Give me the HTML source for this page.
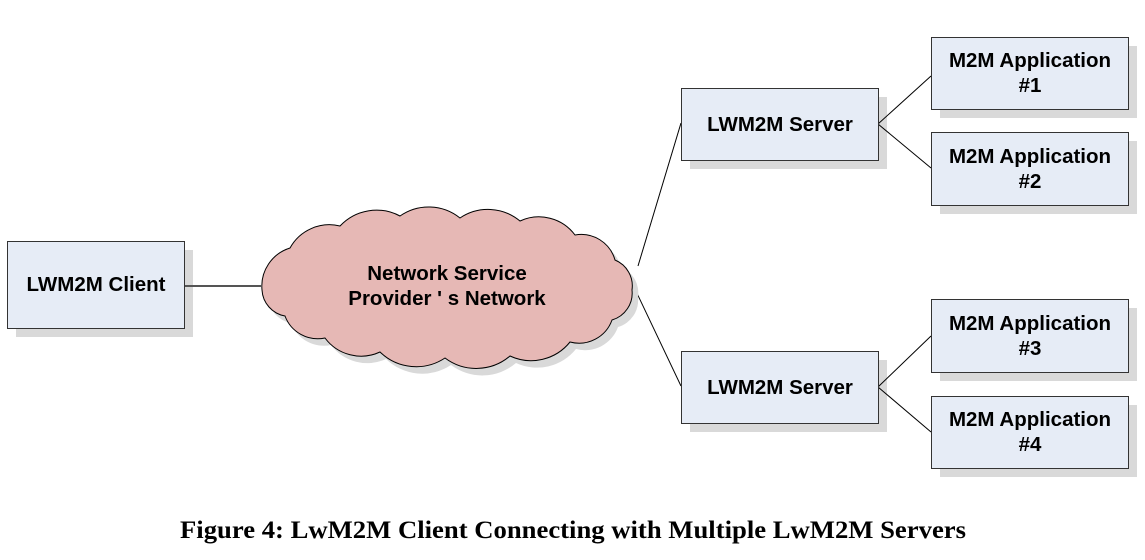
<!DOCTYPE html>
<html><head><meta charset="utf-8"><style>
body{margin:0;background:#fff;width:1145px;height:555px;overflow:hidden}
</style></head><body>
<svg width="1145" height="555" xmlns="http://www.w3.org/2000/svg" font-family="Liberation Sans, Arial, sans-serif">
<g fill="#d9d9d9">
<rect x="16" y="250" width="177" height="87"/>
<rect x="690" y="97" width="197" height="72"/>
<rect x="940" y="46" width="197" height="72"/>
<rect x="940" y="141" width="197" height="73"/>
<rect x="690" y="360" width="197" height="72"/>
<rect x="940" y="308" width="197" height="73"/>
<rect x="940" y="405" width="197" height="72"/>
</g>
<g stroke="#000" stroke-width="1" fill="none">
<line x1="184" y1="286" x2="261" y2="286" stroke="#555" stroke-width="2"/>
<line x1="638" y1="266" x2="681" y2="123"/>
<line x1="634" y1="287" x2="681" y2="386"/>
<line x1="878" y1="124" x2="931" y2="76"/>
<line x1="878" y1="124" x2="931" y2="168"/>
<line x1="878" y1="387" x2="931" y2="336"/>
<line x1="878" y1="387" x2="931" y2="432"/>
</g>
<path transform="translate(6,7)" fill="#d9d9d9" d="M262,290 A40,40 0 0 1 290,248 A45,45 0 0 1 340,226 A50,50 0 0 1 400,216 A50,50 0 0 1 460,218 A50,50 0 0 1 520,221 A45,45 0 0 1 575,235 A35,35 0 0 1 615,260 A28,28 0 0 1 632,290 A28,28 0 0 1 612,320 A35,35 0 0 1 570,342 A50,50 0 0 1 510,356 A52,52 0 0 1 445,358 A52,52 0 0 1 380,352 A45,45 0 0 1 325,338 A35,35 0 0 1 285,316 A28,28 0 0 1 262,290 Z"/>
<path fill="#e6b8b5" stroke="#000" stroke-width="1" d="M262,290 A40,40 0 0 1 290,248 A45,45 0 0 1 340,226 A50,50 0 0 1 400,216 A50,50 0 0 1 460,218 A50,50 0 0 1 520,221 A45,45 0 0 1 575,235 A35,35 0 0 1 615,260 A28,28 0 0 1 632,290 A28,28 0 0 1 612,320 A35,35 0 0 1 570,342 A50,50 0 0 1 510,356 A52,52 0 0 1 445,358 A52,52 0 0 1 380,352 A45,45 0 0 1 325,338 A35,35 0 0 1 285,316 A28,28 0 0 1 262,290 Z"/>
<g fill="#e6ecf6" stroke="#333" stroke-width="1">
<rect x="7.5" y="241.5" width="177" height="87"/>
<rect x="681.5" y="88.5" width="197" height="72"/>
<rect x="931.5" y="37.5" width="197" height="72"/>
<rect x="931.5" y="132.5" width="197" height="73"/>
<rect x="681.5" y="351.5" width="197" height="72"/>
<rect x="931.5" y="299.5" width="197" height="73"/>
<rect x="931.5" y="396.5" width="197" height="72"/>
</g>
<g font-weight="bold" font-size="20.5" text-anchor="middle" fill="#000">
<text x="96" y="291">LWM2M Client</text>
<text x="447" y="280">Network Service</text>
<text x="447" y="305">Provider ' s Network</text>
<text x="780" y="131">LWM2M Server</text>
<text x="780" y="394">LWM2M Server</text>
<text x="1030" y="67">M2M Application</text><text x="1030" y="92">#1</text>
<text x="1030" y="163">M2M Application</text><text x="1030" y="188">#2</text>
<text x="1030" y="330">M2M Application</text><text x="1030" y="355">#3</text>
<text x="1030" y="426">M2M Application</text><text x="1030" y="451">#4</text>
</g>
<text x="180" y="538" textLength="786" lengthAdjust="spacingAndGlyphs" font-family="Liberation Serif, serif" font-weight="bold" font-size="25">Figure 4: LwM2M Client Connecting with Multiple LwM2M Servers</text>
</svg>
</body></html>
